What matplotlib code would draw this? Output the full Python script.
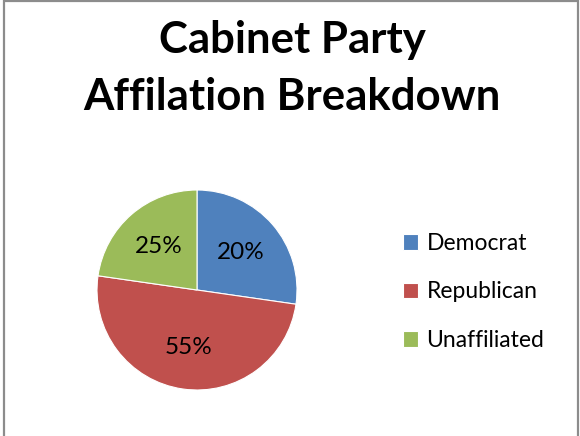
import matplotlib
matplotlib.use("Agg")
import matplotlib.pyplot as plt
from matplotlib.patches import Rectangle

title_lines = ["Cabinet Party", "Affilation Breakdown"]
categories = ["Democrat", "Republican", "Unaffiliated"]
counts = [6, 11, 5]
pct_labels = ["20%", "55%", "25%"]
colors = ["#4F81BD", "#C0504D", "#9BBB59"]

plt.rcParams['font.family'] = ['Lato', 'DejaVu Sans']

W, H = 580, 436
fig = plt.figure(figsize=(W / 100, H / 100), dpi=100)
fig.patch.set_facecolor("white")

# frame
fig.add_artist(Rectangle((3.5 / W, -0.02), (577.5 - 3.5) / W, 1.02 - 1.5 / H,
                         transform=fig.transFigure, fill=False,
                         edgecolor="#8c8c8c", linewidth=1.6))

for line, base in zip(title_lines, [53, 110]):
    fig.text(292 / W, 1 - base / H, line, ha="center", va="baseline",
             fontsize=31.5, fontweight="bold", color="black")

cx, cy, r = 197, 290, 100
ax = fig.add_axes([(cx - r) / W, 1 - (cy + r) / H, 2 * r / W, 2 * r / H])
wedges, texts, autotexts = ax.pie(counts, colors=colors, startangle=90,
                                  counterclock=False, autopct="%1.0f%%",
                                  pctdistance=0.58,
                                  wedgeprops=dict(linewidth=0.8, edgecolor="white"),
                                  textprops=dict(fontsize=17.5, color="black"))
for t, s in zip(autotexts, pct_labels):
    t.set_text(s)
ax.set_xlim(-1, 1)
ax.set_ylim(-1, 1)
ax.set_aspect("equal")

leg = fig.legend(wedges, categories, loc="center left",
                 bbox_to_anchor=(382 / W, 1 - 292 / H), frameon=False,
                 fontsize=16.5, handlelength=0.68, handleheight=0.68,
                 handletextpad=0.36, labelspacing=1.2)

fig.savefig("out.png", dpi=100)
